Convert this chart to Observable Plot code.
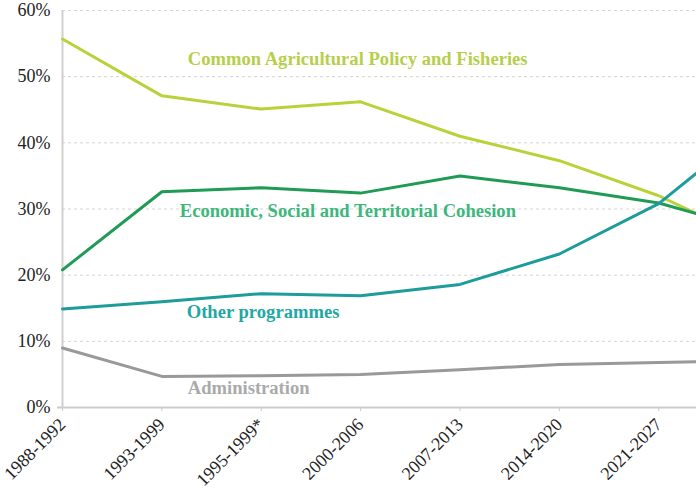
<!DOCTYPE html>
<html><head><meta charset="utf-8">
<script src="https://cdn.jsdelivr.net/npm/d3@7"></script>
<script src="https://cdn.jsdelivr.net/npm/@observablehq/plot@0.6"></script>
<style>html,body{margin:0;padding:0;background:#fff}#chart svg{display:block}</style>
</head><body><div id="chart"></div>
<script>
// Budget periods (x axis categories)
const periods = ["1988-1992","1993-1999","1995-1999*","2000-2006","2007-2013","2014-2020","2021-2027"];
// Share of budget (%) per period; the last value is where each line leaves the cropped right edge
const cap      = [55.7,47.1,45.1,46.2,41.0,37.3,32.0,29.3];
const cohesion = [20.8,32.6,33.2,32.4,35.0,33.2,30.9,29.3];
const other    = [14.9,16.0,17.2,16.9,18.6,23.2,30.8,35.4];
const admin    = [9.0,4.7,4.8,5.0,5.7,6.5,6.8,6.9];
const seriesNames = ["Common Agricultural Policy and Fisheries","Economic, Social and Territorial Cohesion","Other programmes","Administration"];
const yTicks = [0,10,20,30,40,50,60];

const lineColors  = ["#b9d23a","#1f9b55","#1d9c9c","#999999"];
const labelColors = ["#b6cf4a","#3db77c","#22a7a2","#aaaaaa"];
const xEdge = 6.38; // the chart is cropped a little past the last period
const labelPos = [[1.26,52.6],[1.18,29.7],[1.25,14.5],[1.26,2.9]];

const values = [cap, cohesion, other, admin];
const rows = values.flatMap((vals, k) => vals.map((v, i) => ({
  series: seriesNames[k], x: i < periods.length ? i : xEdge, v
})));
const labels = seriesNames.map((s, k) => ({series: s, x: labelPos[k][0], v: labelPos[k][1], color: labelColors[k]}));
const serif = "Liberation Serif";

const chart = Plot.plot({
  width: 696, height: 495,
  marginLeft: 62, marginRight: 0, marginTop: 10, marginBottom: 88,
  x: {domain: [0, xEdge], axis: null},
  y: {domain: [0, 60], axis: null},
  color: {domain: seriesNames, range: lineColors},
  style: {fontFamily: serif, background: "#fff", overflow: "visible"},
  marks: [
    Plot.gridY(yTicks.filter(d => d > 0), {stroke: "#d4d4d4", strokeOpacity: 1, strokeDasharray: "3,3"}),
    Plot.ruleY([0], {stroke: "#cccccc", strokeWidth: 2, insetLeft: -5}),
    Plot.ruleX([0], {stroke: "#d0d0d0", strokeWidth: 2}),
    Plot.axisY(yTicks, {label: null, tickSize: 0, tickPadding: 12, tickFormat: d => d + "%", fontSize: 18, fontFamily: serif, fill: "#222"}),
    Plot.axisX(periods.map((_, i) => i), {label: null, tickFormat: i => periods[i], tickRotate: -45, fontSize: 18, fontFamily: serif, tickSize: 4, tickPadding: 10, stroke: "#cccccc", fill: "#222"}),
    Plot.line(rows, {x: "x", y: "v", z: "series", stroke: "series", strokeWidth: 3, curve: "linear"}),
    Plot.text(labels, {x: "x", y: "v", text: "series", fill: d => d.color, textAnchor: "start", fontSize: 18.6, fontFamily: serif, fontWeight: "bold"})
  ]
});
document.getElementById("chart").append(chart);
</script>
</body></html>
